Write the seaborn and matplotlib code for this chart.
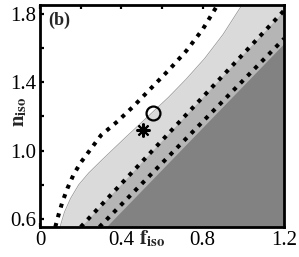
import numpy as np
import pandas as pd
import matplotlib
matplotlib.use("Agg")
import matplotlib.pyplot as plt
import seaborn as sns

# white / light gray boundary
light_x = [0.098, 0.12, 0.15, 0.19, 0.24, 0.30, 0.37, 0.45, 0.54, 0.63, 0.72, 0.81, 0.90, 0.99]
light_y = [0.553, 0.64, 0.72, 0.80, 0.87, 0.94, 1.02, 1.11, 1.21, 1.31, 1.42, 1.54, 1.68, 1.847]

# light / medium gray boundary (straight)
medium_x = [0.20, 1.21]
medium_y = [0.553, 1.833]

# medium / dark gray boundary (straight)
dark_x = [0.325, 1.21]
dark_y = [0.553, 1.64]

# dotted curves
dot1_x = [0.075, 0.09, 0.11, 0.135, 0.165, 0.20, 0.25, 0.30, 0.38, 0.46, 0.55, 0.64, 0.72, 0.80, 0.87]
dot1_y = [0.553, 0.62, 0.70, 0.78, 0.86, 0.93, 1.01, 1.09, 1.17, 1.26, 1.37, 1.48, 1.585, 1.71, 1.847]
dot2_x = [0.20, 1.20]
dot2_y = [0.553, 1.82]
dot3_x = [0.292, 1.20]
dot3_y = [0.553, 1.655]

# markers
circle_x, circle_y = [0.556], [1.22]
star_x, star_y = [0.507], [1.12]

xticks = [0, 0.2, 0.4, 0.6, 0.8, 1.0, 1.2]
xticklabels = ["0", "", "0.4", "", "0.8", "", "1.2"]
yticks = [0.6, 0.8, 1.0, 1.2, 1.4, 1.6, 1.8]
yticklabels = ["0.6", "", "1.0", "", "1.4", "", "1.8"]

sns.set_style("ticks")
plt.rcParams["font.family"] = ["Liberation Serif", "DejaVu Serif"]
plt.rcParams["mathtext.fontset"] = "stix"

fig = plt.figure(figsize=(2.99, 2.57), dpi=100)
ax = fig.add_axes([0.134, 0.117, 0.816, 0.864])

ylo, yhi = 0.553, 1.853
xright = 1.3

def fill_right(bx, by, color):
    yy = np.linspace(ylo - 0.05, yhi + 0.05, 400)
    xx = np.interp(yy, by, bx, left=bx[0], right=np.nan)
    # extend boundaries past their last point
    slope = (bx[-1] - bx[-2]) / (by[-1] - by[-2])
    mask = np.isnan(xx)
    xx[mask] = bx[-1] + slope * (yy[mask] - by[-1])
    ax.fill_betweenx(yy, xx, xright, color=color, lw=0)

fill_right(light_x, light_y, "#dadada")
ax.plot(light_x, light_y, color="#9a9a9a", lw=0.6)
fill_right(medium_x, medium_y, "#b5b5b5")
fill_right(dark_x, dark_y, "#828282")

dots = pd.DataFrame({"x": dot1_x + dot2_x + dot3_x,
                     "y": dot1_y + dot2_y + dot3_y,
                     "curve": ["a"] * len(dot1_x) + ["b"] * len(dot2_x) + ["c"] * len(dot3_x)})
for name, grp in dots.groupby("curve"):
    sns.lineplot(data=grp, x="x", y="y", ax=ax, color="black", lw=2.9,
                 dashes=False, estimator=None, sort=False)
for line in ax.get_lines()[1:]:
    line.set_linestyle((0, (1, 1.5)))
    line.set_dash_capstyle("butt")

ax.plot(circle_x, circle_y, "o", ms=10, mfc="none", mec="black", mew=1.6)
ax.plot(star_x, star_y, marker=(8, 2, 0), ms=10, color="black", mew=1.5, ls="none")

ax.set_xlim(0, 1.2)
ax.set_ylim(ylo, yhi)
ax.set_xticks(xticks)
ax.set_xticklabels(xticklabels)
ax.set_yticks(yticks)
ax.set_yticklabels(yticklabels)
ax.tick_params(direction="in", top=True, right=True, length=3, width=1.6,
               labelsize=15, pad=3, colors="black")
for s in ax.spines.values():
    s.set_linewidth(2.0)
    s.set_color("black")
ax.set_xlabel("")
ax.set_ylabel("")

ax.text(0.459, -0.077, r"$\mathbf{f}_{\mathbf{iso}}$", transform=ax.transAxes,
        fontsize=15, ha="center", va="baseline")
ax.text(-0.082, 0.518, r"$\mathbf{n}_{\mathbf{iso}}$", transform=ax.transAxes,
        fontsize=15, ha="center", va="center", rotation=90)
ax.text(0.035, 0.93, "(b)", transform=ax.transAxes, fontsize=13,
        fontweight="bold", ha="left", va="center")

fig.savefig("out.png", dpi=100)
